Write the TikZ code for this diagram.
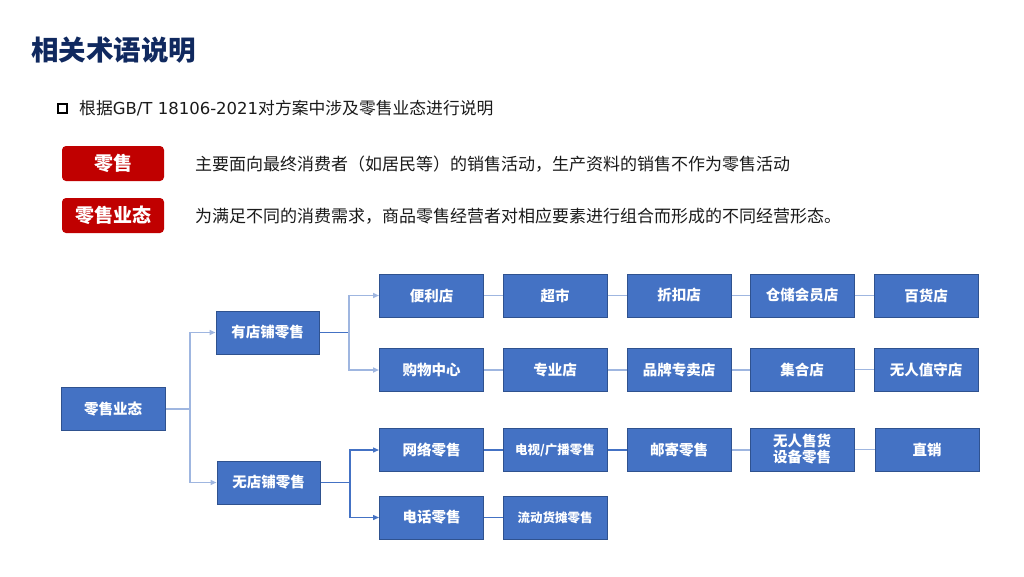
\documentclass[tikz,border=0pt]{standalone}
\usepackage{fontspec}
\setmainfont{Noto Sans CJK SC}
\newfontfamily\latfont{DejaVu Sans}
\usetikzlibrary{arrows.meta}
\definecolor{navy}{HTML}{10295F}
\definecolor{boxblue}{HTML}{4472C4}
\definecolor{boxedge}{HTML}{2F528F}
\definecolor{lightln}{HTML}{9FB6E0}
\definecolor{darkln}{HTML}{4472C4}
\definecolor{redbox}{HTML}{C00000}
\definecolor{txt}{HTML}{1A1A1A}
\begin{document}
\begin{tikzpicture}[x=1pt,y=-1pt,
  bbox/.style={draw=boxedge,line width=1pt,fill=boxblue,minimum width=104pt,minimum height=43pt,inner sep=0pt,text=white,font=\bfseries\fontsize{14.5}{17}\selectfont,align=center},
  smalltxt/.style={font=\bfseries\fontsize{12.5}{15}\selectfont},
  redtag/.style={fill=redbox,rounded corners=4pt,minimum width=102pt,minimum height=35pt,inner sep=0pt,text=white,font=\bfseries\fontsize{19}{22}\selectfont},
  lln/.style={draw=lightln,line width=1.5pt},
  dln/.style={draw=darkln,line width=1.3pt},
  arr/.style={-{Triangle[length=6pt,width=5pt]}},
  desc/.style={anchor=west,inner sep=0pt,text=txt,font=\fontsize{17}{20}\selectfont},
]
\useasboundingbox (0,0) rectangle (1024,576);
% title
\node[anchor=west,inner sep=0pt,text=navy,font=\bfseries\fontsize{27.5}{32}\selectfont] (title) at (31,50) {相关术语说明};
% bullet
\node[draw=black,line width=2pt,minimum size=9pt,inner sep=0pt] (bul) at (62,108) {};
\node[anchor=west,inner sep=0pt,text=txt,font=\fontsize{16.8}{19}\selectfont] (sub) at (79,108) {根据{\latfont\fontsize{16.5}{19}\selectfont GB/T 18106-2021}对方案中涉及零售业态进行说明};
% red tags
\node[redtag] (t1) at (113,163.5) {零售};
\node[redtag] (t2) at (113,215.5) {零售业态};
\node[desc] (d1) at (195,164) {主要面向最终消费者（如居民等）的销售活动，生产资料的销售不作为零售活动};
\node[desc] (d2) at (195,216) {为满足不同的消费需求，商品零售经营者对相应要素进行组合而形成的不同经营形态。};
% tree
\node[bbox] (root) at (113,409) {零售业态};
\node[bbox,minimum width=103pt] (s1) at (267.5,332.5) {有店铺零售};
\node[bbox,minimum width=103pt] (s2) at (268.5,482.5) {无店铺零售};
% row 1
\node[bbox] (a1) at (431.5,295.5) {便利店};
\node[bbox] (a2) at (555,295.5) {超市};
\node[bbox] (a3) at (679,295.5) {折扣店};
\node[bbox] (a4) at (802,295.5) {仓储会员店};
\node[bbox] (a5) at (926,295.5) {百货店};
% row 2
\node[bbox] (b1) at (431.5,370) {购物中心};
\node[bbox] (b2) at (555,370) {专业店};
\node[bbox] (b3) at (679,370) {品牌专卖店};
\node[bbox] (b4) at (802,369.5) {集合店};
\node[bbox] (b5) at (926,369.5) {无人值守店};
% row 3
\node[bbox] (c1) at (431.5,450) {网络零售};
\node[bbox,smalltxt] (c2) at (555,450) {电视/广播零售};
\node[bbox] (c3) at (679,450) {邮寄零售};
\node[bbox,font=\bfseries\fontsize{14.5}{16}\selectfont] (c4) at (802,449.5) {无人售货\\设备零售};
\node[bbox] (c5) at (927,449.5) {直销};
% row 4
\node[bbox] (e1) at (431.5,517.5) {电话零售};
\node[bbox,smalltxt] (e2) at (555,517.5) {流动货摊零售};
% connectors
\coordinate (j0) at (190,409);
\coordinate (j1) at (349,332.5);
\coordinate (j2) at (350,482.5);
\draw[lln] (root.east) -- (j0);
\draw[lln,arr] (j0) |- (s1.west);
\draw[lln,arr] (j0) |- (s2.west);
\draw[dln] (s1.east) -- (j1);
\draw[lln,arr] (j1) |- (a1.west);
\draw[lln,arr] (j1) |- (b1.west);
\draw[dln] (s2.east) -- (j2);
\draw[dln,arr] (j2) |- (c1.west);
\draw[dln,arr] (j2) |- (e1.west);
\draw[lln] (a1) -- (a2); \draw[lln] (a2) -- (a3); \draw[lln] (a3) -- (a4); \draw[lln] (a4) -- (a5);
\draw[lln] (b1) -- (b2); \draw[lln] (b2) -- (b3); \draw[lln] (b3.east) -- (b3.east -| b4.west); \draw[lln] (b4) -- (b5);
\draw[dln] (c1) -- (c2); \draw[dln] (c2) -- (c3); \draw[lln] (c3.east) -- (c3.east -| c4.west); \draw[lln] (c4) -- (c5);
\draw[dln] (e1) -- (e2);
\end{tikzpicture}
\end{document}
